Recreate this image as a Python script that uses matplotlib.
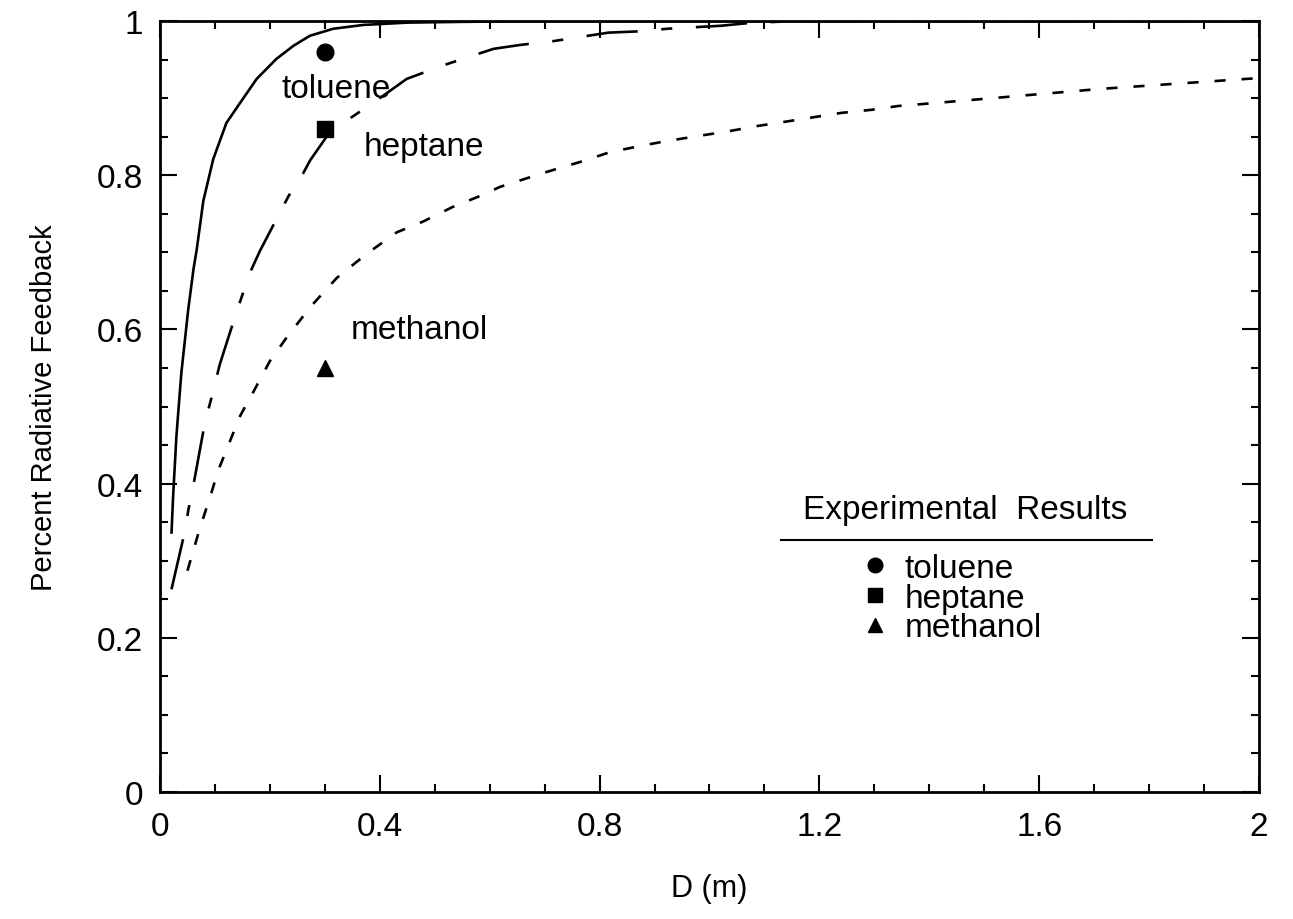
import matplotlib
matplotlib.use("Agg")
import matplotlib.pyplot as plt
from matplotlib.lines import Line2D

plt.rcParams["font.family"] = ["Liberation Sans", "DejaVu Sans"]
plt.rcParams["lines.scale_dashes"] = False

# ─── Model curves ─────────────────────────────────────────────────────────────
tol_d = [0.021, 0.024, 0.030, 0.039, 0.0515, 0.061, 0.067, 0.079, 0.097, 0.121,
         0.146, 0.176, 0.212, 0.243, 0.273, 0.315, 0.37, 0.45, 0.55, 0.70, 2.0]
tol_f = [0.335, 0.384, 0.462, 0.544, 0.626, 0.678, 0.704, 0.767, 0.821, 0.868,
         0.894, 0.925, 0.951, 0.968, 0.981, 0.990, 0.995, 0.998, 0.999, 1.0, 1.0]

hep_d = [0.021, 0.045, 0.052, 0.056, 0.064, 0.082, 0.094, 0.109, 0.14, 0.164,
         0.182, 0.234, 0.261, 0.273, 0.309, 0.40, 0.449, 0.513, 0.607, 0.655,
         0.716, 0.816, 0.882, 0.922, 1.022, 1.065, 1.15, 2.0]
hep_f = [0.263, 0.337, 0.367, 0.38, 0.41, 0.48, 0.512, 0.555, 0.624, 0.674,
         0.702, 0.773, 0.803, 0.819, 0.856, 0.90, 0.925, 0.942, 0.964, 0.969,
         0.974, 0.985, 0.987, 0.99, 0.994, 0.997, 1.0, 1.0]

met_d = [0.05, 0.073, 0.091, 0.106, 0.124, 0.146, 0.173, 0.2, 0.233, 0.276,
         0.322, 0.376, 0.431, 0.479, 0.533, 0.582, 0.619, 0.667, 0.716, 0.768,
         0.819, 0.874, 0.919, 0.98, 1.034, 1.088, 1.134, 1.187, 1.241, 1.296,
         1.345, 1.398, 1.498, 1.711, 1.977, 2.0]
met_f = [0.287, 0.343, 0.382, 0.417, 0.449, 0.488, 0.523, 0.559, 0.592, 0.631,
         0.667, 0.698, 0.726, 0.74, 0.759, 0.773, 0.785, 0.796, 0.807, 0.818,
         0.83, 0.838, 0.844, 0.851, 0.857, 0.864, 0.869, 0.875, 0.881, 0.885,
         0.89, 0.893, 0.899, 0.912, 0.925, 0.926]

# ─── Experimental results ─────────────────────────────────────────────────────
exp_names = ["toluene", "heptane", "methanol"]
exp_d = [0.30, 0.30, 0.30]
exp_f = [0.96, 0.86, 0.55]
exp_markers = ["o", "s", "^"]

x_ticks = [0, 0.4, 0.8, 1.2, 1.6, 2]
x_labels = ["0", "0.4", "0.8", "1.2", "1.6", "2"]
y_ticks = [0, 0.2, 0.4, 0.6, 0.8, 1]
y_labels = ["0", "0.2", "0.4", "0.6", "0.8", "1"]

FS = 24

fig = plt.figure(figsize=(12.93, 9.2), dpi=100)
ax = fig.add_axes([0.1237, 0.138, 0.85, 0.838])

ax.plot(tol_d, tol_f, color="black", lw=1.9, solid_capstyle="butt")
ax.plot(hep_d, hep_f, color="black", lw=1.9, dashes=(37, 17, 8, 17))
ax.plot(met_d, met_f, color="black", lw=1.9, dashes=(8, 11.5))

handles = []
for name, d, f, m in zip(exp_names, exp_d, exp_f, exp_markers):
    ms = 12 if m != "s" else 11
    ax.plot([d], [f], linestyle="none", marker=m, color="black", ms=ms)
    handles.append(Line2D([], [], linestyle="none", marker=m, color="black",
                          ms=ms - 1.5, label=name))

# curve labels
ax.text(0.222, 0.913, "toluene", fontsize=FS, va="center", ha="left")
ax.text(0.371, 0.837, "heptane", fontsize=FS, va="center", ha="left")
ax.text(0.347, 0.60, "methanol", fontsize=FS, va="center", ha="left")

# legend block: title, rule, marker rows
ax.text(0.733, 0.366, "Experimental  Results", fontsize=FS, ha="center",
        va="center", transform=ax.transAxes)
ax.add_line(Line2D([0.565, 0.903], [0.327, 0.327], transform=ax.transAxes,
                   color="black", lw=1.5))
ax.legend(handles=handles, frameon=False, fontsize=FS, loc="upper left",
          bbox_to_anchor=(0.632, 0.310), labelspacing=-0.04,
          handletextpad=0.3, handlelength=1.2, borderpad=0, borderaxespad=0)

ax.set_xlim(0, 2)
ax.set_ylim(0, 1)
ax.set_xticks(x_ticks)
ax.set_xticklabels(x_labels)
ax.set_yticks(y_ticks)
ax.set_yticklabels(y_labels)
ax.set_xticks([i / 10 for i in range(21)], minor=True)
ax.set_yticks([i / 20 for i in range(21)], minor=True)
ax.tick_params(which="both", direction="in", top=True, right=True,
               width=1.5, labelsize=FS)
ax.tick_params(which="major", length=12)
ax.tick_params(which="minor", length=6)
ax.tick_params(axis="x", pad=14)
ax.tick_params(axis="y", pad=12)
for s in ax.spines.values():
    s.set_linewidth(2)

ax.set_xlabel("D (m)", fontsize=22, labelpad=22)
ax.set_ylabel("Percent Radiative Feedback", fontsize=21, labelpad=28)

fig.savefig("out.png", dpi=100)
